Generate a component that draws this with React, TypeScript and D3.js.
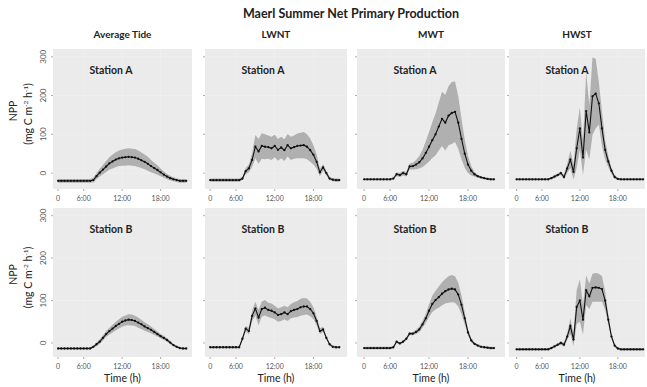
import React from "react";
import * as d3 from "d3";

// ---------- data ----------
const title = "Maerl Summer Net Primary Production";
const tides = ["Average Tide", "LWNT", "MWT", "HWST"];
const stations = ["Station A", "Station B"];
const yTicks = [0, 100, 200, 300];
const xTickValues = [2, 6, 12, 18];
const xTickLabels = ["0", "6:00", "12:00", "18:00"];

const hours = [2, 2.5, 3, 3.5, 4, 4.5, 5, 5.5, 6, 6.5, 7, 7.5, 8, 8.5, 9, 9.5, 10, 10.5, 11, 11.5, 12, 12.5, 13, 13.5, 14, 14.5, 15, 15.5, 16, 16.5, 17, 17.5, 18, 18.5, 19, 19.5, 20, 20.5, 21, 21.5, 22];

// Station A
const avgA_mean = [-20, -20, -20, -20, -20, -20, -20, -20, -20, -20, -20, -18, -8, 1, 9, 17, 25, 30, 35, 38, 40, 41, 42, 41, 40, 37, 33, 29, 24, 18, 13, 8, 2, -4, -9, -13, -16, -18, -20, -20, -20];
const avgA_sd = [5, 5, 5, 5, 5, 5, 5, 5, 5, 5, 5, 6, 8, 10, 12, 14, 16, 18, 19, 20, 21, 22, 22, 22, 22, 21, 20, 19, 18, 16, 14, 12, 10, 8, 7, 6, 5, 5, 5, 5, 5];
const lwA_mean = [-18, -18, -18, -18, -18, -18, -18, -18, -18, -18, -14, 5, 12, 34, 68, 56, 70, 68, 67, 64, 70, 60, 66, 59, 72, 64, 67, 70, 71, 72, 68, 59, 47, 29, 2, 15, 0, -14, -17, -18, -18];
const lwA_sd = [4, 4, 4, 4, 4, 4, 4, 4, 4, 4, 4, 8, 10, 18, 30, 32, 33, 32, 30, 30, 29, 28, 28, 28, 29, 30, 30, 32, 33, 34, 32, 30, 25, 18, 10, 8, 6, 4, 4, 4, 4];
const mwA_mean = [-16, -16, -16, -16, -16, -16, -16, -16, -16, -14, -3, -5, 0, -3, 17, 18, 22, 28, 38, 52, 68, 85, 100, 120, 140, 130, 148, 155, 158, 130, 88, 50, 22, 6, -3, -8, -11, -13, -15, -16, -16];
const mwA_sd = [3, 3, 3, 3, 3, 3, 3, 3, 3, 3, 5, 5, 6, 6, 8, 9, 12, 16, 22, 30, 38, 46, 54, 62, 70, 72, 76, 80, 78, 68, 52, 36, 22, 12, 6, 4, 3, 3, 3, 3, 3];
const hwA_mean = [-16, -16, -16, -16, -16, -16, -16, -16, -16, -16, -16, -13, -9, -5, 0, -10, 12, 35, 3, 64, 115, 40, 160, 105, 198, 205, 180, 115, 60, 30, 6, -10, -15, -16, -16, -16, -16, -16, -16, -16, -16];
const hwA_sd = [3, 3, 3, 3, 3, 3, 3, 3, 3, 3, 3, 3, 4, 4, 5, 6, 12, 22, 20, 50, 55, 45, 100, 70, 100, 90, 55, 45, 25, 14, 8, 5, 3, 3, 3, 3, 3, 3, 3, 3, 3];

// Station B
const avgB_mean = [-13, -13, -13, -13, -13, -13, -13, -13, -13, -13, -13, -9, -3, 3, 12, 21, 28, 34, 40, 45, 50, 53, 55, 54, 52, 48, 44, 39, 35, 31, 26, 21, 16, 12, 7, 1, -5, -9, -12, -13, -13];
const avgB_sd = [3, 3, 3, 3, 3, 3, 3, 3, 3, 3, 3, 3, 4, 5, 6, 7, 8, 9, 10, 11, 12, 12, 13, 13, 12, 12, 11, 10, 9, 8, 7, 6, 5, 5, 4, 4, 3, 3, 3, 3, 3];
const lwB_mean = [-10, -10, -10, -10, -10, -10, -10, -10, -10, -10, 10, 34, 28, 64, 81, 60, 80, 83, 78, 76, 72, 66, 68, 72, 68, 75, 78, 80, 84, 86, 86, 80, 70, 52, 28, 32, 12, -3, -9, -10, -10];
const lwB_sd = [3, 3, 3, 3, 3, 3, 3, 3, 3, 3, 4, 6, 8, 12, 16, 18, 18, 18, 17, 17, 16, 16, 16, 16, 16, 17, 18, 19, 20, 20, 19, 17, 14, 10, 7, 6, 4, 3, 3, 3, 3];
const mwB_mean = [-12, -12, -12, -12, -12, -12, -12, -12, -12, -10, 3, -1, 3, 10, 22, 22, 26, 32, 44, 58, 76, 92, 101, 108, 116, 122, 126, 128, 126, 114, 90, 58, 25, 6, -2, -6, -9, -10, -11, -12, -12];
const mwB_sd = [3, 3, 3, 3, 3, 3, 3, 3, 3, 3, 3, 3, 3, 3, 4, 4, 5, 6, 8, 11, 15, 19, 22, 25, 27, 29, 31, 32, 31, 28, 22, 14, 8, 5, 3, 3, 3, 3, 3, 3, 3];
const hwB_mean = [-15, -15, -15, -15, -15, -15, -15, -15, -15, -15, -15, -12, -8, -4, 0, -4, 15, 40, 8, 85, 100, 55, 124, 110, 130, 131, 130, 127, 100, 55, 15, -6, -13, -15, -15, -15, -15, -15, -15, -15, -15];
const hwB_sd = [3, 3, 3, 3, 3, 3, 3, 3, 3, 3, 3, 3, 3, 3, 4, 5, 8, 18, 15, 40, 50, 35, 35, 30, 33, 34, 33, 30, 22, 12, 6, 4, 3, 3, 3, 3, 3, 3, 3, 3, 3];

const means = [
  [avgA_mean, lwA_mean, mwA_mean, hwA_mean],
  [avgB_mean, lwB_mean, mwB_mean, hwB_mean],
];
const sds = [
  [avgA_sd, lwA_sd, mwA_sd, hwA_sd],
  [avgB_sd, lwB_sd, mwB_sd, hwB_sd],
];

// ---------- layout ----------
const W = 647;
const H = 387;
const cols = [
  { left: 53, right: 192, domain: [1.2, 22.9] },
  { left: 205, right: 347, domain: [1.2, 23.2] },
  { left: 357, right: 505, domain: [0.9, 23.7] },
  { left: 509, right: 645, domain: [0.8, 22.3] },
];
const rows = [
  { top: 49, bottom: 189, domain: [-41, 320] },
  { top: 208, bottom: 357, domain: [-33, 318] },
];
const FONT = "Lato, 'Open Sans', 'DejaVu Sans', sans-serif";

function Panel({ r, c }: { r: number; c: number }) {
  const col = cols[c];
  const row = rows[r];
  const x = d3.scaleLinear().domain(col.domain).range([col.left, col.right]);
  const y = d3.scaleLinear().domain(row.domain).range([row.bottom, row.top]);
  const m = means[r][c];
  const s = sds[r][c];
  const pts = hours.map((h, i) => ({ h, m: m[i], s: s[i] }));
  const area = d3
    .area<any>()
    .x((d) => x(d.h))
    .y0((d) => y(d.m - d.s))
    .y1((d) => y(d.m + d.s));
  const line = d3
    .line<any>()
    .x((d) => x(d.h))
    .y((d) => y(d.m));
  return (
    <g>
      <rect
        x={col.left}
        y={row.top}
        width={col.right - col.left}
        height={row.bottom - row.top}
        fill="#ebebeb"
      />
      {yTicks.map((t) => (
        <line
          key={"gy" + t}
          x1={col.left}
          x2={col.right}
          y1={y(t)}
          y2={y(t)}
          stroke="#fff"
          strokeOpacity={0.22}
          strokeWidth={1}
        />
      ))}
      {xTickValues.slice(1).map((t) => (
        <line
          key={"gx" + t}
          x1={x(t)}
          x2={x(t)}
          y1={row.top}
          y2={row.bottom}
          stroke="#fff"
          strokeOpacity={0.2}
          strokeWidth={1}
        />
      ))}
      <path d={area(pts) || ""} fill="#b0b0b0" />
      <path d={line(pts) || ""} fill="none" stroke="#111" strokeWidth={1.1} />
      {pts.map((d, i) => (
        <circle key={i} cx={x(d.h)} cy={y(d.m)} r={1.15} fill="#111" />
      ))}
      {yTicks.map((t) => (
        <line
          key={"ty" + t}
          x1={col.left - 2}
          x2={col.left}
          y1={y(t)}
          y2={y(t)}
          stroke="#999"
          strokeWidth={0.8}
        />
      ))}
      {xTickValues.map((t, i) => (
        <g key={"tx" + i}>
          <line
            x1={x(t)}
            x2={x(t)}
            y1={row.bottom}
            y2={row.bottom + 2}
            stroke="#999"
            strokeWidth={0.8}
          />
          <text
            x={x(t)}
            y={row.bottom + 12}
            textAnchor="middle"
            fontSize={7}
            fill="#555"
          >
            {xTickLabels[i]}
          </text>
        </g>
      ))}
      {c === 0 &&
        yTicks.map((t) => (
          <text
            key={"ly" + t}
            transform={`translate(${col.left - 7},${y(t)}) rotate(-90)`}
            textAnchor="middle"
            fontSize={8}
            fill="#555"
          >
            {t}
          </text>
        ))}
      <text
        x={col.left + 58}
        y={row.top + 25}
        textAnchor="middle"
        fontSize={10.5}
        fontWeight="bold"
        fill="#222"
      >
        {stations[r]}
      </text>
    </g>
  );
}

export default function App() {
  return (
    <svg
      width={W}
      height={H}
      style={{ position: "absolute", left: 0, top: 0, background: "#fff" }}
      fontFamily={FONT}
    >
      <rect x={0} y={0} width={W} height={H} fill="#fff" />
      <text x={351} y={18} textAnchor="middle" fontSize={12.5} fontWeight="bold" fill="#222">
        {title}
      </text>
      {tides.map((t, c) => (
        <text
          key={t}
          x={(cols[c].left + cols[c].right) / 2}
          y={38}
          textAnchor="middle"
          fontSize={10}
          fontWeight="bold"
          fill="#222"
        >
          {t}
        </text>
      ))}
      {rows.map((row, r) => {
        const cy = (row.top + row.bottom) / 2 - 8;
        return (
          <g key={"yl" + r}>
            <text
              transform={`translate(17,${cy}) rotate(-90)`}
              textAnchor="middle"
              fontSize={10.5}
              fill="#222"
            >
              NPP
            </text>
            <text
              transform={`translate(32,${cy + 3}) rotate(-90)`}
              textAnchor="middle"
              fontSize={10.5}
              fill="#222"
            >
              (mg C m
              <tspan fontSize={6.5} dy={-4}>-2</tspan>
              <tspan dy={4}> h</tspan>
              <tspan fontSize={6.5} dy={-4}>-1</tspan>
              <tspan dy={4}>)</tspan>
            </text>
          </g>
        );
      })}
      {rows.map((row, r) =>
        cols.map((col, c) => <Panel key={r + "-" + c} r={r} c={c} />)
      )}
      {cols.map((col, c) => (
        <text
          key={"xt" + c}
          x={(col.left + col.right) / 2}
          y={382}
          textAnchor="middle"
          fontSize={10.5}
          fill="#222"
        >
          Time (h)
        </text>
      ))}
    </svg>
  );
}
